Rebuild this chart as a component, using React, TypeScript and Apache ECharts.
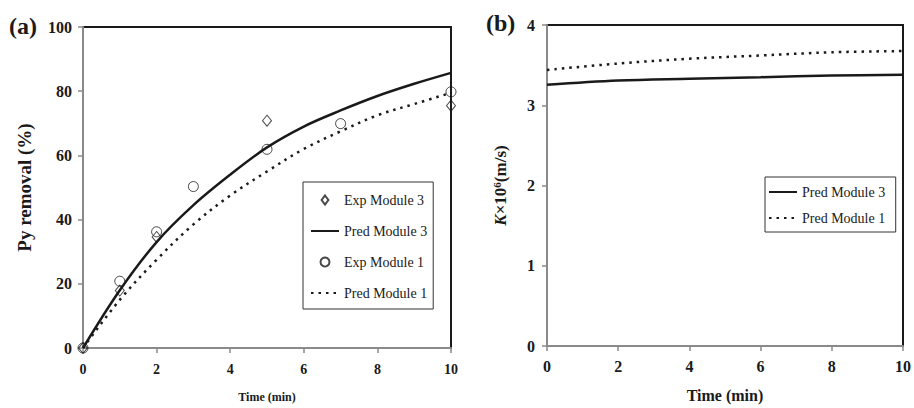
import React, { useEffect, useRef } from "react";
import * as echarts from "echarts";

const timeA = [0, 1, 2, 3, 4, 5, 6, 7, 8, 9, 10];
const predModule3A = [0, 18, 33, 44.5, 54, 62.5, 69, 74, 78.5, 82.3, 85.7];
const predModule1A = [0, 15, 27.5, 38.5, 47.5, 55, 62, 67.5, 72.5, 76, 79.5];
const expModule3T = [0, 1, 2, 5, 10];
const expModule3V = [0, 17.9, 34.6, 70.8, 75.5];
const expModule1T = [0, 1, 2, 3, 5, 7, 10];
const expModule1V = [0, 20.8, 36.2, 50.3, 61.9, 69.9, 79.8];

const timeB = [0, 2, 4, 6, 8, 10];
const kModule3 = [3.254, 3.307, 3.33, 3.35, 3.37, 3.381];
const kModule1 = [3.44, 3.52, 3.58, 3.62, 3.66, 3.675];

const FONT = "'Liberation Serif', 'Times New Roman', serif";
const INK = "#1a1a1a";

const pair = (xs: number[], ys: number[]) => xs.map((x, i) => [x, ys[i]]);
const noSym = { opacity: 0 };

export default function App() {
  const ref = useRef<HTMLDivElement>(null);
  useEffect(() => {
    if (!ref.current) return;
    const chart = echarts.init(ref.current, undefined, { renderer: "svg" });
    const axisCommon = {
      axisLine: { show: true, lineStyle: { color: "#8a8a8a", width: 2 } },
      axisTick: { show: true, inside: false, length: 5, lineStyle: { color: "#8a8a8a", width: 1.5 } },
      splitLine: { show: false },
    };
    chart.setOption({
      animation: false,
      backgroundColor: "#fff",
      grid: [
        { left: 83, top: 27, width: 368, height: 327, show: true, borderColor: INK, borderWidth: 2, backgroundColor: "transparent" },
        { left: 547, top: 25, width: 360, height: 325, show: true, borderColor: INK, borderWidth: 2, backgroundColor: "transparent" },
      ],
      xAxis: [
        {
          ...axisCommon,
          gridIndex: 0, type: "value", min: 0, max: 10, interval: 2,
          axisLabel: { margin: 14, fontFamily: FONT, fontWeight: "bold", fontSize: 14, color: INK },
          name: "Time (min)", nameLocation: "middle", nameGap: 43,
          nameTextStyle: { fontFamily: FONT, fontWeight: "bold", fontSize: 12, color: INK },
        },
        {
          ...axisCommon,
          gridIndex: 1, type: "value", min: 0, max: 10, interval: 2,
          axisLabel: { margin: 12, fontFamily: FONT, fontWeight: "bold", fontSize: 16, color: INK },
          name: "Time (min)", nameLocation: "middle", nameGap: 41,
          nameTextStyle: { fontFamily: FONT, fontWeight: "bold", fontSize: 16, color: INK },
        },
      ],
      yAxis: [
        {
          ...axisCommon,
          gridIndex: 0, type: "value", min: 0, max: 100, interval: 20,
          axisLabel: { margin: 11, fontFamily: FONT, fontWeight: "bold", fontSize: 16, color: INK },
          name: "Py removal (%)", nameLocation: "middle", nameGap: 49,
          nameTextStyle: { fontFamily: FONT, fontWeight: "bold", fontSize: 19, color: INK },
        },
        {
          ...axisCommon,
          gridIndex: 1, type: "value", min: 0, max: 4, interval: 1,
          axisLabel: { margin: 12, fontFamily: FONT, fontWeight: "bold", fontSize: 16, color: INK },
          name: "{i|K}{n|×10}{s|6}{n|(m/s)}", nameLocation: "middle", nameGap: 37,
          nameTextStyle: {
            fontFamily: FONT, fontWeight: "bold", fontSize: 17, color: INK,
            rich: {
              i: { fontFamily: FONT, fontWeight: "bold", fontStyle: "italic", fontSize: 17, color: INK },
              n: { fontFamily: FONT, fontWeight: "bold", fontSize: 17, color: INK },
              s: { fontFamily: FONT, fontWeight: "bold", fontSize: 11, color: INK, padding: [0, 0, 8, 0] },
            },
          },
        },
      ],
      legend: [
        {
          left: 303, top: 182, orient: "vertical",
          data: [
            { name: "Exp Module 3", icon: "path://M5 0 L9.5 6 L5 12 L0.5 6 Z" },
            { name: "Pred Module 3", itemStyle: noSym },
            { name: "Exp Module 1", icon: "circle" },
            { name: "Pred Module 1", itemStyle: noSym },
          ],
          itemWidth: 28, itemHeight: 9, itemGap: 17, itemTextGap: 7,
          symbolKeepAspect: true,
          padding: [11, 6, 9, 7],
          borderColor: "#333", borderWidth: 1, backgroundColor: "#fff",
          textStyle: { fontFamily: FONT, fontSize: 14, color: INK },
          selectedMode: false,
        },
        {
          left: 765, top: 177, orient: "vertical",
          data: [
            { name: "Pred Module 3 ", itemStyle: noSym },
            { name: "Pred Module 1 ", itemStyle: noSym },
          ],
          itemWidth: 28, itemHeight: 10, itemGap: 12, itemTextGap: 4,
          padding: [8, 7, 7, 3],
          borderColor: "#333", borderWidth: 1, backgroundColor: "#fff",
          textStyle: { fontFamily: FONT, fontSize: 14, color: INK },
          selectedMode: false,
        },
      ],
      series: [
        {
          name: "Exp Module 3", type: "scatter", xAxisIndex: 0, yAxisIndex: 0,
          data: pair(expModule3T, expModule3V), symbol: "diamond", symbolSize: [9, 11],
          itemStyle: { color: "rgba(255,255,255,0)", borderColor: INK, borderWidth: 1 }, z: 5,
        },
        {
          name: "Pred Module 3", type: "line", xAxisIndex: 0, yAxisIndex: 0, smooth: 0.35,
          data: pair(timeA, predModule3A), showSymbol: false, symbol: "none",
          lineStyle: { color: INK, width: 2.5, type: "solid" }, itemStyle: { color: INK },
        },
        {
          name: "Exp Module 1", type: "scatter", xAxisIndex: 0, yAxisIndex: 0,
          data: pair(expModule1T, expModule1V), symbol: "circle", symbolSize: 10,
          itemStyle: { color: "rgba(255,255,255,0)", borderColor: INK, borderWidth: 1 }, z: 5,
        },
        {
          name: "Pred Module 1", type: "line", xAxisIndex: 0, yAxisIndex: 0, smooth: 0.35,
          data: pair(timeA, predModule1A), showSymbol: false, symbol: "none",
          lineStyle: { color: INK, width: 2.5, type: [2.5, 5] }, itemStyle: { color: INK },
        },
        {
          name: "Pred Module 3 ", type: "line", xAxisIndex: 1, yAxisIndex: 1, smooth: 0.35,
          data: pair(timeB, kModule3), showSymbol: false, symbol: "none",
          lineStyle: { color: INK, width: 2.5, type: "solid" }, itemStyle: { color: INK },
        },
        {
          name: "Pred Module 1 ", type: "line", xAxisIndex: 1, yAxisIndex: 1, smooth: 0.35,
          data: pair(timeB, kModule1), showSymbol: false, symbol: "none",
          lineStyle: { color: INK, width: 2.5, type: [2.5, 5] }, itemStyle: { color: INK },
        },
      ],
      graphic: [
        { type: "text", left: 9, top: 14, style: { text: "(a)", fontFamily: FONT, fontWeight: "bold", fontSize: 24, fill: INK } },
        { type: "text", left: 486, top: 11, style: { text: "(b)", fontFamily: FONT, fontWeight: "bold", fontSize: 24, fill: INK } },
      ],
    });
    return () => chart.dispose();
  }, []);
  return (
    <div
      ref={ref}
      style={{ position: "fixed", left: 0, top: 0, width: 914, height: 408 }}
    />
  );
}
